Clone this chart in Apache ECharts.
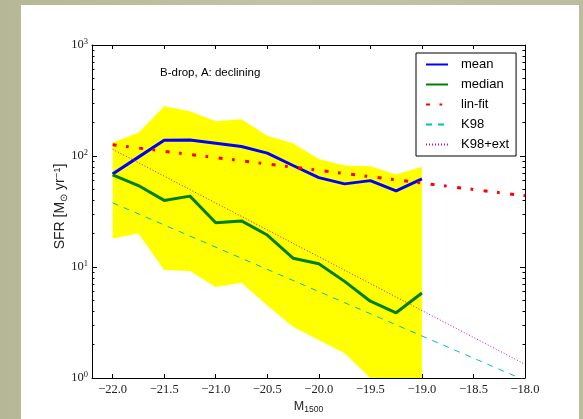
<!DOCTYPE html>
<html>
<head>
<meta charset="utf-8">
<script src="https://cdn.jsdelivr.net/npm/echarts@6/dist/echarts.min.js"></script>
<style>
html,body{margin:0;padding:0;width:583px;height:419px;overflow:hidden;background:linear-gradient(90deg,#b5b797 0%,#c3c4a5 50%,#bcbd9e 100%);}
#panel{position:absolute;left:21px;top:5px;width:558px;height:414px;background:#fff;}
#chart{position:absolute;left:0;top:0;width:583px;height:419px;}
</style>
</head>
<body>
<div id="panel"></div>
<div id="chart"></div>
<script>
// ---- data ----
const mags = [-22.0, -21.75, -21.5, -21.25, -21.0, -20.75, -20.5, -20.25, -20.0, -19.75, -19.5, -19.25, -19.0];
const meanSFR   = [68.9, 97.7, 138.7, 139.6, 130.4, 121.8, 106.2, 82.1, 63.9, 56.1, 60.0, 48.6, 62.2];
const medianSFR = [67.5, 54.2, 39.8, 43.5, 25.0, 26.0, 19.4, 12.0, 10.7, 7.42, 4.92, 3.87, 5.83];
const bandUpper = [132, 162, 281, 253, 206, 214, 152, 130, 94, 82, 81, 68, 80];
const bandLower = [18.1, 20.0, 9.4, 9.2, 6.6, 7.2, 4.5, 2.9, 2.2, 1.67, 1.0, 0.6, 0.5];
const linFitX = [-22.0, -18.0];
const linFitY = [126, 43.8];
const k98X = [-22.0, -18.0];
const k98Y = [37.9, 0.953];
const k98extX = [-22.0, -18.0];
const k98extY = [115, 1.33];
const xTicks = [-22.0, -21.5, -21.0, -20.5, -20.0, -19.5, -19.0, -18.5, -18.0];
const yMajorTicks = [1, 10, 100, 1000];
const yMinorTicks = [2,3,4,5,6,7,8,9,20,30,40,50,60,70,80,90,200,300,400,500,600,700,800,900];
const legendNames = ['mean', 'median', 'lin-fit', 'K98', 'K98+ext'];

const pairs = (xs, ys) => xs.map((x, i) => [x, ys[i]]);
const bandRows = mags.map((m, i) => [m, bandLower[i], bandUpper[i]]);

const serif = 'Liberation Serif';
const sans = 'Liberation Sans';

const chart = echarts.init(document.getElementById('chart'), null, {renderer: 'canvas'});

const xBase = {
  type: 'value', min: -22.2, max: -18.0,
  splitLine: {show: false},
  axisLine: {show: true, onZero: false, lineStyle: {color: '#000', width: 1}},
  axisTick: {show: true, inside: true, length: 4, customValues: xTicks, lineStyle: {color: '#000'}},
};
const yBase = {
  type: 'log', logBase: 10, min: 1, max: 1000,
  splitLine: {show: false},
  axisLine: {show: true, onZero: false, lineStyle: {color: '#000', width: 1}},
};

function renderBand(params, api) {
  if (params.dataIndex !== 0) return null;
  const top = [], bot = [];
  for (let i = 0; i < bandRows.length; i++) {
    top.push(api.coord([bandRows[i][0], bandRows[i][2]]));
    bot.push(api.coord([bandRows[i][0], bandRows[i][1]]));
  }
  const cs = params.coordSys;
  return {
    type: 'polygon',
    shape: {points: top.concat(bot.reverse())},
    style: {fill: '#ffff00', stroke: null},
    clipPath: {type: 'rect', shape: {x: cs.x, y: cs.y, width: cs.width, height: cs.height}}
  };
}

chart.setOption({
  animation: false,
  grid: {left: 92, top: 45, right: 58, bottom: 38, containLabel: false},
  xAxis: [
    Object.assign({}, xBase, {
      position: 'bottom',
      axisLabel: {show: true, customValues: xTicks, margin: 5, fontFamily: serif, fontSize: 12.5, color: '#222',
        formatter: v => '\u2212' + Math.abs(v).toFixed(1)},
      name: 'M{sub|1500}', nameLocation: 'middle', nameGap: 22, nameMoveOverlap: false,
      nameTextStyle: {fontFamily: sans, fontSize: 12.5, color: '#222',
        rich: {sub: {fontFamily: sans, fontSize: 8.5, verticalAlign: 'bottom', padding: [5, 0, 0, 0], color: '#222'}}}
    }),
    Object.assign({}, xBase, {
      position: 'top',
      axisLabel: {show: false}
    })
  ],
  yAxis: [
    Object.assign({}, yBase, {
      position: 'left',
      axisTick: {show: true, inside: true, length: 5, customValues: yMajorTicks, lineStyle: {color: '#000'}},
      axisLabel: {show: true, customValues: yMajorTicks, margin: 4, fontFamily: serif, fontSize: 12.5, color: '#222',
        formatter: v => '10{sup|' + Math.round(Math.log10(v)) + '}',
        rich: {sup: {fontFamily: serif, fontSize: 8.5, verticalAlign: 'top', padding: [0, 0, 6, 0], color: '#222'}}},
      name: 'SFR [M{sub|\u2299} yr{sup|\u22121}]', nameLocation: 'middle', nameGap: 23, nameRotate: 90,
      nameMoveOverlap: false,
      nameTextStyle: {fontFamily: sans, fontSize: 14, color: '#222', padding: [0, 0, 0, 10],
        rich: {
          sub: {fontFamily: sans, fontSize: 9.5, verticalAlign: 'bottom', padding: [5, 0, 0, 0], color: '#222'},
          sup: {fontFamily: sans, fontSize: 9.5, verticalAlign: 'top', padding: [0, 0, 7, 0], color: '#222'}
        }}
    }),
    Object.assign({}, yBase, {
      position: 'left',
      axisLine: {show: false},
      axisTick: {show: true, inside: true, length: 2.5, customValues: yMinorTicks, lineStyle: {color: '#000'}},
      axisLabel: {show: false}
    }),
    Object.assign({}, yBase, {
      position: 'right',
      axisTick: {show: true, inside: true, length: 5, customValues: yMajorTicks, lineStyle: {color: '#000'}},
      axisLabel: {show: false}
    }),
    Object.assign({}, yBase, {
      position: 'right',
      axisLine: {show: false},
      axisTick: {show: true, inside: true, length: 2.5, customValues: yMinorTicks, lineStyle: {color: '#000'}},
      axisLabel: {show: false}
    })
  ],
  legend: {
    data: legendNames,
    orient: 'vertical', left: 416, top: 53,
    itemWidth: 22, itemHeight: 14, itemGap: 7,
    padding: [5, 7, 5, 9],
    backgroundColor: '#fff', borderColor: '#000', borderWidth: 1, borderRadius: 0,
    itemStyle: {opacity: 0},
    textStyle: {fontFamily: sans, fontSize: 13, color: '#000', padding: [0, 0, 0, 8]},
    selectedMode: false
  },
  graphic: [{
    type: 'text', left: 160, top: 67,
    style: {text: 'B-drop, A: declining', fontFamily: sans, fontSize: 11.5, fill: '#000'}
  }],
  series: [
    {name: 'band', type: 'custom', data: bandRows, renderItem: renderBand, silent: true, z: 1,
      encode: {x: 0, y: [1, 2]}},
    {name: 'mean', type: 'line', data: pairs(mags, meanSFR), symbol: 'none',
      lineStyle: {color: '#0000ff', width: 3}, itemStyle: {color: '#0000ff'}, z: 3},
    {name: 'median', type: 'line', data: pairs(mags, medianSFR), symbol: 'none',
      lineStyle: {color: '#008000', width: 3}, itemStyle: {color: '#008000'}, z: 3},
    {name: 'lin-fit', type: 'line', data: pairs(linFitX, linFitY), symbol: 'none',
      lineStyle: {color: '#ff0000', width: 3, type: [4, 9.5, 2.7, 10.5], cap: 'butt'}, itemStyle: {color: '#ff0000'}, z: 4},
    {name: 'K98', type: 'line', data: pairs(k98X, k98Y), symbol: 'none',
      lineStyle: {color: '#00bfbf', width: 1, type: [6, 6]}, itemStyle: {color: '#00bfbf'}, z: 4},
    {name: 'K98+ext', type: 'line', data: pairs(k98extX, k98extY), symbol: 'none',
      lineStyle: {color: '#cc00cc', width: 1, type: [1, 2]}, itemStyle: {color: '#cc00cc'}, z: 4}
  ]
});
</script>
</body>
</html>
